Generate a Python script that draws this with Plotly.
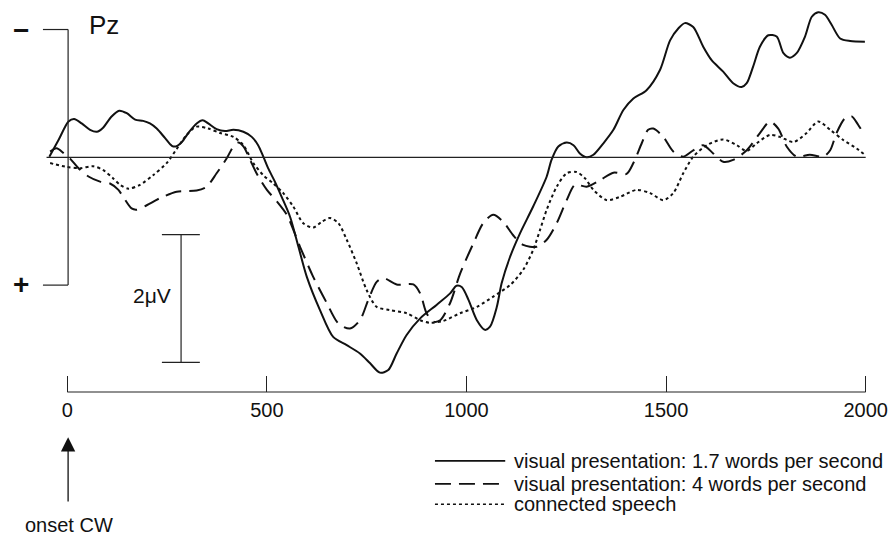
import plotly.graph_objects as go

# ---- ERP waveforms at Pz (time in ms, amplitude in microvolts; negative plotted up) ----
slow_t = [-45, -22, 3, 17, 36, 57, 74, 89, 111, 130, 149, 170, 190, 207, 224, 245, 262, 272,
          287, 303, 324, 339, 353, 374, 395, 416, 441, 462, 478, 491, 503, 520, 537, 558, 579,
          600, 633, 666, 700, 733, 758, 783, 804, 825, 850, 884, 925, 959, 975, 988, 1005,
          1026, 1046, 1059, 1076, 1088, 1109, 1134, 1167, 1201, 1213, 1230, 1251, 1268, 1284,
          1301, 1318, 1343, 1368, 1393, 1418, 1451, 1485, 1510, 1531, 1547, 1568, 1593, 1614,
          1643, 1668, 1689, 1702, 1718, 1735, 1756, 1777, 1794, 1810, 1827, 1848, 1865, 1881,
          1898, 1915, 1936, 1961, 1998]
slow_v = [-0.01, -0.27, -0.56, -0.60, -0.53, -0.43, -0.40, -0.46, -0.64, -0.73, -0.69, -0.59,
          -0.57, -0.53, -0.45, -0.30, -0.18, -0.17, -0.24, -0.38, -0.53, -0.58, -0.53, -0.44,
          -0.41, -0.43, -0.40, -0.32, -0.19, -0.01, 0.17, 0.38, 0.62, 0.93, 1.40, 1.87, 2.39,
          2.81, 2.94, 3.07, 3.22, 3.37, 3.33, 3.07, 2.78, 2.52, 2.31, 2.13, 2.01, 2.03, 2.23,
          2.55, 2.70, 2.65, 2.34, 1.97, 1.56, 1.19, 0.77, 0.30, 0.04, -0.17, -0.23, -0.19,
          -0.06, 0.00, -0.04, -0.22, -0.43, -0.74, -0.92, -1.05, -1.37, -1.83, -2.02, -2.10,
          -2.04, -1.73, -1.52, -1.34, -1.16, -1.10, -1.16, -1.42, -1.73, -1.91, -1.89, -1.63,
          -1.56, -1.63, -1.89, -2.20, -2.27, -2.23, -2.07, -1.86, -1.82, -1.81]

fast_t = [-43, -27, -10, 7, 28, 53, 82, 107, 128, 140, 161, 174, 199, 232, 274, 324, 349, 374,
          399, 416, 428, 441, 458, 474, 500, 525, 550, 583, 616, 650, 679, 708, 733, 754, 775,
          792, 825, 867, 884, 900, 917, 934, 959, 984, 1017, 1042, 1067, 1092, 1117, 1142,
          1176, 1201, 1226, 1251, 1272, 1301, 1334, 1368, 1401, 1418, 1439, 1455, 1468, 1493,
          1518, 1543, 1568, 1593, 1618, 1643, 1668, 1702, 1735, 1760, 1781, 1802, 1827, 1860,
          1894, 1911, 1927, 1948, 1965, 1981, 1994]
fast_v = [-0.09, -0.14, -0.07, 0.02, 0.17, 0.30, 0.38, 0.41, 0.51, 0.62, 0.80, 0.82, 0.75,
          0.64, 0.54, 0.52, 0.46, 0.25, 0.02, -0.17, -0.23, -0.17, 0.04, 0.25, 0.51, 0.69,
          0.90, 1.40, 1.87, 2.28, 2.60, 2.68, 2.55, 2.23, 1.95, 1.89, 1.99, 1.99, 2.13, 2.44,
          2.57, 2.55, 2.28, 1.82, 1.35, 1.03, 0.90, 1.01, 1.22, 1.37, 1.40, 1.29, 1.03, 0.67,
          0.43, 0.46, 0.36, 0.24, 0.26, 0.09, -0.22, -0.43, -0.45, -0.32, -0.09, -0.01, -0.11,
          -0.19, -0.06, 0.07, 0.04, -0.11, -0.38, -0.56, -0.45, -0.17, -0.01, -0.04, -0.01,
          -0.11, -0.38, -0.61, -0.64, -0.51, -0.38]

speech_t = [-43, -2, 32, 65, 90, 115, 132, 153, 182, 215, 249, 274, 299, 324, 353, 383, 416,
            441, 466, 491, 516, 541, 566, 591, 616, 637, 658, 679, 700, 725, 750, 775, 808,
            850, 884, 909, 942, 984, 1026, 1067, 1109, 1142, 1167, 1184, 1201, 1226, 1251,
            1276, 1297, 1318, 1351, 1384, 1426, 1460, 1493, 1518, 1543, 1568, 1602, 1643,
            1677, 1702, 1727, 1760, 1785, 1819, 1852, 1881, 1911, 1944, 1977, 1998]
speech_v = [0.09, 0.15, 0.17, 0.14, 0.20, 0.33, 0.43, 0.49, 0.43, 0.28, 0.09, -0.13, -0.35,
            -0.48, -0.45, -0.38, -0.32, -0.19, 0.09, 0.28, 0.41, 0.56, 0.77, 1.03, 1.10, 1.01,
            0.95, 1.03, 1.29, 1.66, 2.08, 2.34, 2.39, 2.44, 2.55, 2.59, 2.56, 2.44, 2.34, 2.18,
            2.00, 1.76, 1.45, 1.14, 0.82, 0.46, 0.25, 0.23, 0.33, 0.51, 0.67, 0.62, 0.51, 0.56,
            0.67, 0.56, 0.25, -0.01, -0.19, -0.28, -0.19, -0.10, -0.22, -0.35, -0.32, -0.24,
            -0.38, -0.56, -0.43, -0.27, -0.14, -0.04]

series_names = ["visual presentation: 1.7 words per second",
                "visual presentation: 4 words per second",
                "connected speech"]
x_ticks = [0, 500, 1000, 1500, 2000]

# ---- styling ----
FONT = "Liberation Sans, Arial, Helvetica, sans-serif"
INK = "#111111"
DASHES = ["solid", "16px,8px", "3px,3px"]

fig = go.Figure()
for t, v, name, dash in zip([slow_t, fast_t, speech_t], [slow_v, fast_v, speech_v],
                            series_names, DASHES):
    fig.add_trace(go.Scatter(
        x=t, y=v, mode="lines", name=name, showlegend=False,
        line=dict(color=INK, width=2, dash=dash, shape="spline", smoothing=0.8),
        hoverinfo="skip"))

shapes = []
ln = dict(color="#222222", width=1.2)
# zero baseline
shapes.append(dict(type="line", x0=-52, x1=2000, y0=0, y1=0, line=ln))
# amplitude axis with negative (top) and positive (bottom) marks
shapes.append(dict(type="line", x0=2, x1=2, y0=-2.0, y1=2.0, line=ln))
shapes.append(dict(type="line", x0=-61, x1=2, y0=-2.0, y1=-2.0, line=ln))
shapes.append(dict(type="line", x0=-61, x1=2, y0=2.0, y1=2.0, line=ln))
# 2 uV calibration bar
shapes.append(dict(type="line", x0=285, x1=285, y0=1.21, y1=3.21, line=ln))
shapes.append(dict(type="line", x0=237, x1=332, y0=1.21, y1=1.21, line=ln))
shapes.append(dict(type="line", x0=237, x1=332, y0=3.21, y1=3.21, line=ln))
# time axis line
AXIS_Y = 1 - 392 / 537
shapes.append(dict(type="line", xref="x", yref="paper", x0=0, x1=2000,
                   y0=AXIS_Y, y1=AXIS_Y, line=ln))

# legend key lines
legend_y = [4.75, 5.11, 5.43]
for yv, dash in zip(legend_y, DASHES):
    shapes.append(dict(type="line", x0=921, x1=1097, y0=yv, y1=yv,
                       line=dict(color=INK, width=1.6, dash=dash)))

annotations = [
    dict(x=92, y=-2.07, text="Pz", showarrow=False, xanchor="center", yanchor="middle",
         font=dict(family=FONT, size=26, color=INK)),
    dict(x=-116, y=-1.99, text="<b>\u2212</b>", showarrow=False, xanchor="center",
         yanchor="middle", font=dict(family=FONT, size=28, color=INK)),
    dict(x=-117, y=1.99, text="<b>+</b>", showarrow=False, xanchor="center",
         yanchor="middle", font=dict(family=FONT, size=28, color=INK)),
    dict(x=266, y=2.16, text="2\u03bcV", showarrow=False, xanchor="right",
         yanchor="middle", font=dict(family=FONT, size=21, color=INK)),
    dict(x=5, y=5.935, text="onset CW", showarrow=False, xanchor="center",
         yanchor="bottom", yshift=-1, font=dict(family=FONT, size=20, color=INK)),
    dict(x=2, y=4.38, ax=2, ay=5.41, axref="x", ayref="y", text="", showarrow=True,
         arrowhead=2, arrowsize=2.2, arrowwidth=1.3, arrowcolor=INK),
]
for yv, name in zip(legend_y, series_names):
    annotations.append(dict(x=1114, y=yv, text=name, showarrow=False, xanchor="left",
                            yanchor="middle", font=dict(family=FONT, size=20, color=INK)))

fig.update_layout(
    width=889, height=537,
    margin=dict(l=0, r=0, t=0, b=0),
    paper_bgcolor="white", plot_bgcolor="white",
    showlegend=False,
    shapes=shapes,
    annotations=annotations,
    xaxis=dict(range=[-168.6, 2058.4], domain=[0, 1], anchor="free", position=AXIS_Y,
               showgrid=False, zeroline=False, showline=False,
               tickvals=x_ticks, ticktext=[str(v) for v in x_ticks],
               ticks="inside", ticklen=16, tickwidth=1.2, tickcolor="#222222",
               ticklabeloverflow="allow", ticklabelstandoff=4,
               tickfont=dict(family=FONT, size=20, color=INK)),
    yaxis=dict(range=[5.942, -2.462], domain=[0, 1], visible=False,
               showgrid=False, zeroline=False),
)

fig.write_html("out.html")
